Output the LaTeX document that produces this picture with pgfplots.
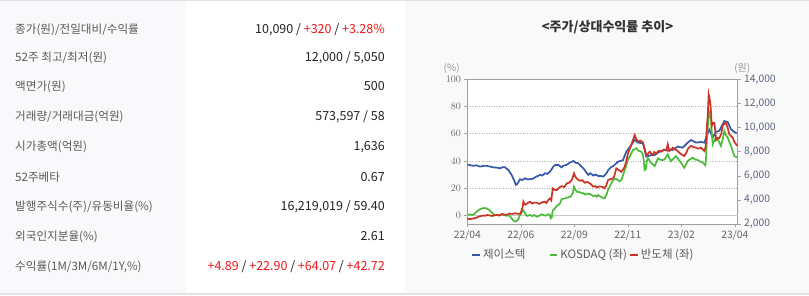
\documentclass[border=0pt]{standalone}
\usepackage{fontspec}
\setmainfont{Noto Sans CJK KR}
\usepackage{pgfplots}
\usepackage{pgfplotstable}
\pgfplotsset{compat=1.18}
\definecolor{cblue}{HTML}{3558A8}
\definecolor{cgreen}{HTML}{4CBB3A}
\definecolor{cred}{HTML}{CC3322}
\definecolor{labgray}{HTML}{5A5A5A}
\definecolor{valblack}{HTML}{222222}
\definecolor{valred}{HTML}{F01818}
\definecolor{colbg}{HTML}{F9F9FB}
\definecolor{rightbg}{HTML}{F9F9F9}
\definecolor{bordergray}{HTML}{E2E2E6}
\definecolor{tickgray}{HTML}{666666}
\definecolor{rtickgray}{HTML}{5B6680}
\definecolor{titlegray}{HTML}{333333}

\pgfplotstableread{
x price
0 6930
3 6870
6 6820
9 6870
12.7 6760
16 6820
19.3 6820
23 6760
26 6700
30 6670
32.7 6620
35 6700
37.7 6700
41 6480
44.3 6070
46.7 5650
48.7 5240
50 5320
52.7 5710
55 5650
57.7 5790
60 5710
62.7 5710
66 5770
69 5930
72.7 6070
75 6020
77.7 6210
80 6160
82.7 6340
84 6500
86 6760
88 6900
91 6900
94.3 6700
96 6840
99.3 6900
102 7060
106 7230
108 7090
111 7030
114 6780
116 6620
118.5 6340
121 6070
123 6210
126 6020
128 6110
131 5980
133 5990
136 5930
139.3 6220
141 6480
144 6730
146 6800
150.7 7170
155.7 7300
159 8000
164 8550
167.3 8970
170.7 8750
175.7 8690
179 7580
184 7720
187.3 7720
192.3 8000
197.3 8140
200 8080
203 8190
205.4 8140
210.4 8420
215.4 8330
220.4 8750
223.7 8970
228.7 8750
233.7 8800
237 8750
239.4 9300
242 9830
245.4 9160
248.7 9640
252 9720
257 10540
260.4 10460
263.7 9850
267 9640
269.4 9520
}\stock

\pgfplotstableread{
x v
0 -2.5
3 -2.8
5 -2.5
8 -2.0
10 -1.5
12 -0.8
14 -0.5
16 -0.2
18 -0.3
20 0.2
22 0
24 -0.4
25 -0.5
27 0.1
30 0.3
32 -0.2
35 1
37 0.4
40 0.5
42 1.3
45 1
48 1.5
50 1.2
53 1
54.5 4
55.5 7
56 10
57 8.5
58 7.7
60 8.8
62.7 10
65 8.6
67 9.3
69.4 9.3
72 8.4
75 9.6
77.7 10
79 9
81 11.2
82.7 12.4
84 11
85.4 19.7
87 18.8
89.4 18.5
92 20.5
94.4 21.4
97 20.8
99.4 23.4
102 24
104.4 25.9
105.5 28
106.7 30.8
108 28.5
109.4 27.1
111 26
112.7 25.4
115 25.8
117.7 23.9
120 24.6
122.7 23.4
124 22.5
126 21
128 21.5
129.4 20.5
132 21.2
134.4 21
136 20.6
137.4 19.8
139 22
140.7 25.9
143 26.5
145.7 27.1
147 29
149 34.5
151 33.5
154 32
156 34
157.4 35.7
159 40
160.7 45.6
162 48
164 51.7
165.5 55
167.4 59
169 56
170.7 54.2
173 55
175.7 53.4
177 50
179 44.3
180.5 45
182.4 46.8
184 45.5
185.7 44.3
187 46.5
189 45.6
191.5 47.5
194 46.8
196.5 48.3
199 48
200.5 52.2
202 47.3
204 48.2
205.4 49.7
208 48.5
210.4 47.3
212 46
213.7 44.9
215.5 44.2
217 43.6
219 46
220.4 48.5
222 50
223.7 51
226 50.2
228.7 49.7
231 49
233.7 49.7
235.5 48.5
237 47.3
238.2 50
238.7 53.4
239.5 65
240.4 73
241.4 88.9
242.2 86
243 82.8
243.8 75
244.4 65.7
245.6 68
247 68.1
248 62
248.7 55.4
250.5 57
252 56.6
254 60
255.4 66.2
257 67
258.7 68.1
260.5 64
262 59.5
263.5 58.5
265.4 57.1
267 54
268.5 52.5
270 51
}\semi

\pgfplotstableread{
x v
0 0.4
3 0.6
5 0.2
7.5 1.2
9.7 3
12 4.2
14.7 5
17 5.4
19.7 5
22 3.8
24.7 2
26 0.8
27 -0.2
29 0.3
32 0
34 0.6
36 0.3
39 -0.3
41.3 0
43 -1
44 -2
46 -3.8
48 -4.7
49.5 -4
51 -3
52.5 0
54 2
56 3.7
57 2.6
58 1
60 -0.5
62.7 0.3
65 -0.6
67 0.2
69.4 -1
72 -0.4
74 0.8
76 0.3
78.5 -0.3
81 0.8
82.5 0.5
83.4 -2.2
84.5 -1.5
85.4 3.4
87 4.5
89.4 6.9
91 7.5
92.5 8.5
94.4 12
97 12.3
99 12.8
101 13.2
103 13.6
104.4 14.9
105.7 17
106.7 21
108 19
109.4 17.4
112 17
114 16.5
116 16.2
118 15.2
120 15.8
122.7 15.7
124.5 14.8
126 14.2
128 14.5
129.4 13.7
131 14.9
133 13.8
134.4 13.2
136 12.8
137.4 12.5
139 15
140.7 18.6
143 22
145 25
147.4 27.1
150 26.3
152 25
154 25.9
156 30
157.4 33.3
159.5 38
160.5 41
162.4 43.1
164 45.5
165.7 48
167.5 48.5
169 49.3
171 47.5
174 46.8
175.5 45
176.5 40
177.4 33.3
178.5 34
179.5 40
180.7 41.9
182.5 40
184 38.2
185.7 37.5
187.4 36.2
189 39
190.7 41.9
192.5 41
195 40.5
197.4 41.2
199 43
200.5 44.8
202 42
203.7 39.9
206 41.5
208.7 43.6
211 41
213.7 38.7
215.5 36.5
217 35
218.5 37
220.4 39.9
222.5 41
225.4 42.4
228 41
230.4 40.6
233 39.5
235.4 38.7
237 37.5
238 36.8
238.7 42
239.4 53.4
240.5 65
241.4 76.7
242.5 73
243.7 70.5
244.6 60
245.4 52.2
247 55
248.7 57.1
251 55
253.7 51
255.5 56
257 62
258.7 59
260.4 57.1
262 54
263.7 51
265.5 47
267 43.6
268.5 43
270 42.4
}\kosdaq

\newcommand{\rowlab}[2]{\node[anchor=base west, inner sep=0, text=labgray, font=\fontsize{11.6}{14}\selectfont] at (15pt,{(295-#1-4.5)*1pt}) {#2};}
\newcommand{\rowval}[2]{\node[anchor=base east, inner sep=0, text=valblack, font=\fontsize{12.5}{14}\selectfont] at (385pt,{(295-#1-4.5)*1pt}) {#2};}
\newcommand{\rd}[1]{\textcolor{valred}{#1}}

\begin{document}
\begin{tikzpicture}
\path[use as bounding box] (0pt,0pt) rectangle (809pt,295pt);
\fill[white] (0pt,0pt) rectangle (809pt,295pt);
\fill[colbg] (0pt,2pt) rectangle (185.5pt,293.5pt);
\fill[rightbg] (405pt,2pt) rectangle (809pt,293.5pt);
\fill[bordergray] (0pt,293.5pt) rectangle (809pt,295pt);
\fill[bordergray] (0pt,0pt) rectangle (809pt,2pt);

\rowlab{29}{종가(원)/전일대비/수익률}
\rowval{29}{10,090 / \rd{+320} / \rd{+3.28\%}}
\rowlab{57.3}{52주 최고/최저(원)}
\rowval{57.3}{12,000 / 5,050}
\rowlab{86.3}{액면가(원)}
\rowval{86.3}{500}
\rowlab{115.8}{거래량/거래대금(억원)}
\rowval{115.8}{573,597 / 58}
\rowlab{146}{시가총액(억원)}
\rowval{146}{1,636}
\rowlab{176.6}{52주베타}
\rowval{176.6}{0.67}
\rowlab{206.2}{발행주식수(주)/유동비율(\%)}
\rowval{206.2}{16,219,019 / 59.40}
\rowlab{236}{외국인지분율(\%)}
\rowval{236}{2.61}
\rowlab{265.7}{수익률(1M/3M/6M/1Y,\%)}
\rowval{265.7}{\rd{+4.89} / \rd{+22.90} / \rd{+64.07} / \rd{+42.72}}

\node[font=\bfseries\fontsize{13}{15}\selectfont, text=titlegray] at (607.5pt,268pt) {<주가/상대수익률 추이>};
\node[font=\fontsize{10}{11}\selectfont, text=black!40] at (451.7pt,226.7pt) {(\%)};
\node[font=\fontsize{10}{11}\selectfont, text=black!40] at (742.3pt,226.7pt) {(원)};

% frame, grid, left and x ticks
\begin{axis}[
  at={(467.3pt,71pt)}, anchor=south west,
  width=270.4pt, height=144.7pt, scale only axis,
  xmin=0, xmax=270.4, ymin=-6.4, ymax=100,
  xtick={0,53.5,107,160.5,214,267.5},
  xticklabels={22/04,22/06,22/09,22/11,23/02,23/04},
  ytick={20,40,60,80,100},
  extra y ticks={0},
  extra y tick style={grid style={solid, draw=black!22, line width=0.9pt}},
  ymajorgrids, grid style={dotted, draw=black!30, line width=0.6pt},
  xtick pos=left, ytick pos=left,
  tick align=outside, major tick length=3pt,
  tick style={draw=black!35, line width=0.5pt},
  axis line style={draw=black!38, line width=0.8pt},
  ticklabel style={font=\fontsize{10.3}{12}\selectfont, text=tickgray},
  axis background/.style={fill=white},
]
\end{axis}

% stock price, right axis
\begin{axis}[
  at={(467.3pt,71pt)}, anchor=south west,
  width=270.4pt, height=144.7pt, scale only axis,
  xmin=0, xmax=270.4, ymin=2000, ymax=14000,
  hide x axis, axis y line*=right,
  axis line style={draw=none},
  ytick={2000,4000,6000,8000,10000,12000,14000},
  scaled y ticks=false,
  /pgf/number format/.cd, 1000 sep={,}, assume math mode=true, /pgfplots/.cd,
  tick align=outside, major tick length=3pt,
  tick style={draw=black!35, line width=0.5pt},
  yticklabel style={font=\fontsize{10.3}{12}\selectfont, text=rtickgray},
  legend columns=3,
  legend style={draw=none, fill=none, at={(0.0026,-0.214)}, anchor=west,
    font=\fontsize{11.5}{13}\selectfont, text=labgray,
    /tikz/column 2/.style={column sep=21pt},
    /tikz/column 4/.style={column sep=0pt}},
  legend image code/.code={\draw[#1, line width=2.4pt] (0pt,0pt) -- (7.5pt,0pt);},
]
\addplot[cblue, line width=1.7pt] table[x=x, y=price] {\stock};
\addlegendentry{제이스텍}
\addlegendimage{cgreen, line width=1.7pt}
\addlegendentry{KOSDAQ (좌)}
\addlegendimage{cred, line width=1.7pt}
\addlegendentry{반도체 (좌)}
\end{axis}

% relative returns, left axis
\begin{axis}[
  at={(467.3pt,71pt)}, anchor=south west,
  width=270.4pt, height=144.7pt, scale only axis,
  xmin=0, xmax=270.4, ymin=-6.4, ymax=100,
  hide axis,
]
\addplot[cgreen, line width=1.7pt] table[x=x, y=v] {\kosdaq};
\addplot[cred, line width=1.7pt] table[x=x, y=v] {\semi};
\end{axis}
\end{tikzpicture}
\end{document}
